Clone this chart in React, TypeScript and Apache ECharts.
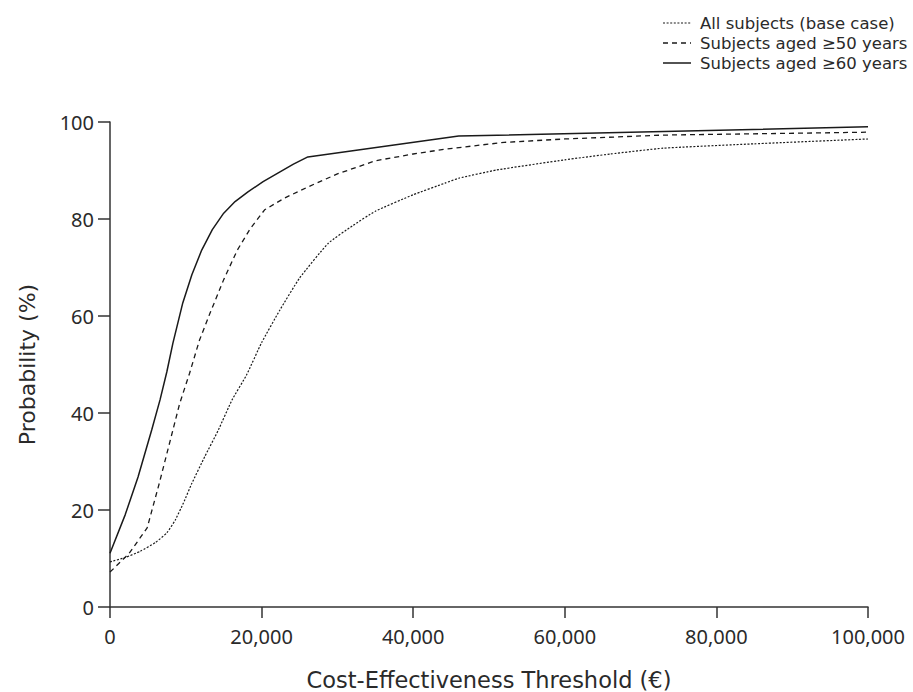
import React, { useEffect, useRef } from "react";
import * as echarts from "echarts";

const seriesNames = [
  "All subjects (base case)",
  "Subjects aged \u226550 years",
  "Subjects aged \u226560 years",
];

const baseX = [0, 2000, 4000, 6000, 7500, 8600, 9700, 10800, 12500, 14300, 16100, 18000, 20000, 22400, 25000, 28800, 32000, 35000, 40000, 44200, 46000, 51000, 60000, 66000, 73000, 85000, 100000];
const baseY = [9.3, 10.2, 11.5, 13.3, 15.3, 17.9, 21.5, 25.5, 31, 36.5, 42.7, 47.8, 54.5, 61.2, 67.8, 75, 78.6, 81.6, 85, 87.4, 88.4, 90.1, 92.2, 93.4, 94.6, 95.5, 96.5];

const age50X = [0, 2500, 4900, 6500, 8300, 9200, 10500, 11800, 13200, 15000, 16800, 18500, 20400, 23000, 26100, 30000, 35000, 40000, 44200, 52000, 60000, 73000, 100000];
const age50Y = [7.2, 11, 16.3, 25.5, 36.5, 42, 48.2, 55, 60.6, 67.5, 73.6, 78, 81.9, 84.3, 86.6, 89.3, 92, 93.4, 94.4, 95.8, 96.5, 97.3, 97.9];

const age60X = [0, 2000, 3700, 5500, 6600, 7500, 8300, 9600, 10800, 12100, 13500, 15000, 16500, 18200, 20200, 22200, 24200, 26100, 46000, 100000];
const age60Y = [11.1, 19, 26.8, 36.5, 42.7, 48.5, 54.4, 62.7, 68.5, 73.6, 77.8, 81.2, 83.6, 85.6, 87.7, 89.5, 91.3, 92.8, 97.1, 99.0];

const xTicks = [0, 20000, 40000, 60000, 80000, 100000];

const pairs = (xs: number[], ys: number[]) => xs.map((x, i) => [x, ys[i]]);

const FONT = "Noto Sans";
const TITLE_FONT = "DejaVu Sans";
const TXT = "#2a2a2a";
const LINE = "#1a1a1a";

const dashTypes: any[] = [[2, 1.6], [5, 4], "solid"];
const widths = [1.2, 1.3, 1.5];

export default function App() {
  const ref = useRef<HTMLDivElement>(null);
  useEffect(() => {
    if (!ref.current) return;
    document.body.style.margin = "0";
    const chart = echarts.init(ref.current, undefined, { renderer: "svg" });

    const legendGraphics: any[] = [];
    seriesNames.forEach((name, i) => {
      const cy = 23 + i * 20;
      legendGraphics.push({
        type: "line",
        shape: { x1: 663, y1: cy, x2: 691, y2: cy },
        style: { stroke: LINE, lineWidth: widths[i], lineDash: dashTypes[i] === "solid" ? null : dashTypes[i] },
      });
      legendGraphics.push({
        type: "text",
        x: 700,
        y: cy,
        style: {
          text: name,
          fill: TXT,
          fontFamily: TITLE_FONT,
          fontSize: 16.5,
          verticalAlign: "middle",
        },
      });
    });

    chart.setOption({
      animation: false,
      backgroundColor: "#fff",
      textStyle: { fontFamily: FONT, color: TXT },
      graphic: legendGraphics,
      grid: { left: 110, right: 45, top: 122, bottom: 85, outerBoundsMode: "none", containLabel: false },
      xAxis: {
        type: "value",
        min: 0,
        max: 100000,
        interval: 20000,
        name: "Cost-Effectiveness Threshold (\u20ac)",
        nameLocation: "middle",
        nameGap: 61,
        nameTextStyle: { fontFamily: TITLE_FONT, fontSize: 22.5, color: TXT },
        axisLine: { lineStyle: { color: "#333", width: 1.5 } },
        axisTick: { show: true, length: 11, inside: false, lineStyle: { color: "#333", width: 1.5 } },
        axisLabel: {
          margin: 19,
          fontFamily: FONT,
          fontSize: 20,
          color: TXT,
          formatter: (v: number) => (xTicks.includes(v) ? v.toLocaleString("en-US") : ""),
        },
        splitLine: { show: false },
      },
      yAxis: {
        type: "value",
        min: 0,
        max: 100,
        interval: 20,
        name: "Probability (%)",
        nameLocation: "middle",
        nameGap: 72,
        nameRotate: 90,
        nameTextStyle: { fontFamily: TITLE_FONT, fontSize: 22, color: TXT },
        axisLine: { show: true, lineStyle: { color: "#333", width: 1.5 } },
        axisTick: { show: true, length: 12, lineStyle: { color: "#333", width: 1.5 } },
        axisLabel: { margin: 16, fontFamily: FONT, fontSize: 20, color: TXT },
        splitLine: { show: false },
      },
      series: [
        {
          name: seriesNames[0],
          type: "line",
          data: pairs(baseX, baseY),
          symbol: "none",
          smooth: 0.15,
          lineStyle: { color: LINE, width: widths[0], type: dashTypes[0] },
          itemStyle: { color: LINE },
        },
        {
          name: seriesNames[1],
          type: "line",
          data: pairs(age50X, age50Y),
          symbol: "none",
          smooth: false,
          lineStyle: { color: LINE, width: widths[1], type: dashTypes[1] },
          itemStyle: { color: LINE },
        },
        {
          name: seriesNames[2],
          type: "line",
          data: pairs(age60X, age60Y),
          symbol: "none",
          smooth: false,
          lineStyle: { color: LINE, width: widths[2], type: dashTypes[2] },
          itemStyle: { color: LINE },
        },
      ],
    });
    return () => chart.dispose();
  }, []);
  return <div ref={ref} style={{ width: 913, height: 692 }} />;
}
